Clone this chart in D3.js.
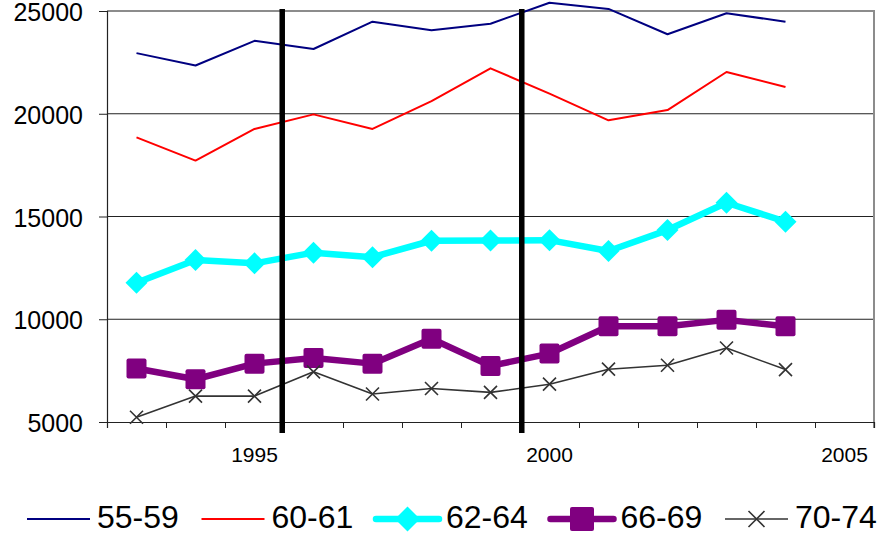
<!DOCTYPE html>
<html>
<head>
<meta charset="utf-8">
<script src="https://cdn.jsdelivr.net/npm/d3@7"></script>
<style>
  html, body { margin: 0; padding: 0; background: #fff; }
  svg { display: block; font-family: "Liberation Sans", Arial, sans-serif; }
</style>
</head>
<body>
<svg id="chart" width="883" height="535"></svg>
<script>
// Age-group series by year
const years = [1993, 1994, 1995, 1996, 1997, 1998, 1999, 2000, 2001, 2002, 2003, 2004];
const s5559 = [22950, 22350, 23550, 23150, 24480, 24060, 24380, 25400, 25100, 23870, 24890, 24480];
const s6061 = [18850, 17720, 19260, 19970, 19260, 20610, 22210, 20980, 19680, 20180, 22030, 21300];
const s6264 = [11780, 12880, 12720, 13240, 13020, 13820, 13830, 13850, 13320, 14340, 15670, 14750];
const s6669 = [7600, 7080, 7840, 8110, 7840, 9050, 7730, 8330, 9660, 9660, 9970, 9660];
const s7074 = [5230, 6260, 6260, 7440, 6360, 6630, 6440, 6840, 7570, 7760, 8600, 7550];

const seriesNames = ["55-59", "60-61", "62-64", "66-69", "70-74"];
const yTicks = [5000, 10000, 15000, 20000, 25000];
const xLabelYears = [1995, 2000, 2005];
const periodBreaks = [1995.47, 1999.53];

const seriesStyle = [
  { values: s5559, color: "#000080", width: 2,   marker: "none" },
  { values: s6061, color: "#ff0000", width: 2,   marker: "none" },
  { values: s6264, color: "#00ffff", width: 6.5, marker: "diamond" },
  { values: s6669, color: "#800080", width: 6.5, marker: "square" },
  { values: s7074, color: "#333333", width: 1.6, marker: "cross" }
];

const svg = d3.select("#chart");
const plot = { left: 107, right: 874, top: 11, bottom: 422 };

const x = d3.scaleLinear().domain([1992.5, 2005.5]).range([plot.left, plot.right]);
const y = d3.scaleLinear().domain([5000, 25000]).range([plot.bottom, plot.top]);

// gridlines
svg.append("g")
  .selectAll("line")
  .data(yTicks.filter(v => v > 5000 && v < 25000))
  .join("line")
  .attr("x1", plot.left).attr("x2", plot.right)
  .attr("y1", d => y(d)).attr("y2", d => y(d))
  .attr("stroke", "#222").attr("stroke-width", 1);

// plot frame: top and right in grey
svg.append("line")
  .attr("x1", plot.left).attr("x2", plot.right + 1)
  .attr("y1", y(25000)).attr("y2", y(25000))
  .attr("stroke", "#8c8c8c").attr("stroke-width", 2);
svg.append("line")
  .attr("x1", plot.right).attr("x2", plot.right)
  .attr("y1", y(25000)).attr("y2", plot.bottom + 6)
  .attr("stroke", "#8c8c8c").attr("stroke-width", 2);

// y axis
const yAxis = d3.axisLeft(y).tickValues(yTicks).tickSize(8).tickPadding(16).tickFormat(d3.format("d"));
const gy = svg.append("g").attr("transform", `translate(${plot.left},0)`).call(yAxis);
gy.select(".domain").attr("stroke", "#222").attr("stroke-width", 1.2);
gy.selectAll(".tick line").attr("stroke", "#222");
gy.selectAll(".tick text")
  .attr("font-size", 25).attr("fill", "#000")
  .attr("font-family", "Liberation Sans, Arial, sans-serif")
  .attr("dy", "0.38em");

// x axis: ticks between categories, labels every five years
const xAxis = d3.axisBottom(x)
  .tickValues(d3.range(1992.5, 2006, 1))
  .tickSize(6)
  .tickFormat("");
const gx = svg.append("g").attr("transform", `translate(0,${plot.bottom})`).call(xAxis);
gx.select(".domain").attr("stroke", "#222").attr("stroke-width", 1.2);
gx.selectAll(".tick line").attr("stroke", "#222");

svg.append("g")
  .selectAll("text")
  .data(xLabelYears)
  .join("text")
  .attr("x", d => x(d))
  .attr("y", plot.bottom + 40)
  .attr("text-anchor", "middle")
  .attr("font-size", 21)
  .attr("fill", "#000")
  .text(d => d);

// series lines and markers
const line = d3.line().x((d, i) => x(years[i])).y(d => y(d));

function drawMarker(g, type, color, size) {
  if (type === "diamond") {
    g.append("path")
      .attr("d", `M0,${-size}L${size},0L0,${size}L${-size},0Z`)
      .attr("fill", color);
  } else if (type === "square") {
    g.append("rect")
      .attr("x", -size / 2).attr("y", -size / 2)
      .attr("width", size).attr("height", size)
      .attr("rx", 2)
      .attr("fill", color);
  } else if (type === "cross") {
    g.append("path")
      .attr("d", `M${-size},${-size}L${size},${size}M${-size},${size}L${size},${-size}`)
      .attr("stroke", color).attr("stroke-width", 1.6).attr("fill", "none");
  }
}

const markerSize = { diamond: 11, square: 20, cross: 6.5 };

seriesStyle.forEach(s => {
  const g = svg.append("g");
  g.append("path")
    .attr("d", line(s.values))
    .attr("fill", "none")
    .attr("stroke", s.color)
    .attr("stroke-width", s.width)
    .attr("stroke-linejoin", "round");
  if (s.marker !== "none") {
    s.values.forEach((v, i) => {
      const m = g.append("g").attr("transform", `translate(${x(years[i])},${y(v)})`);
      drawMarker(m, s.marker, s.color, markerSize[s.marker]);
    });
  }
});

// period boundaries
svg.append("g")
  .selectAll("line")
  .data(periodBreaks)
  .join("line")
  .attr("x1", d => x(d)).attr("x2", d => x(d))
  .attr("y1", y(25000) - 2).attr("y2", plot.bottom + 11)
  .attr("stroke", "#000").attr("stroke-width", 5.5);

// legend
const legendMarker = { diamond: 12.5, square: 24, cross: 8 };
const legend = svg.append("g");
seriesStyle.forEach((s, i) => {
  const item = legend.append("g")
    .attr("transform", `translate(${27 + i * 174.5},519)`);
  item.append("line")
    .attr("x1", 0).attr("x2", 63).attr("y1", 0).attr("y2", 0)
    .attr("stroke", s.color)
    .attr("stroke-width", s.width)
    .attr("stroke-linecap", s.width > 3 ? "round" : "butt");
  if (s.marker !== "none") {
    const m = item.append("g").attr("transform", "translate(31.5,0)");
    drawMarker(m, s.marker, s.color, legendMarker[s.marker]);
  }
  item.append("text")
    .attr("x", 70).attr("y", 9)
    .attr("font-size", 32)
    .attr("fill", "#000")
    .text(seriesNames[i]);
});
</script>
</body>
</html>
